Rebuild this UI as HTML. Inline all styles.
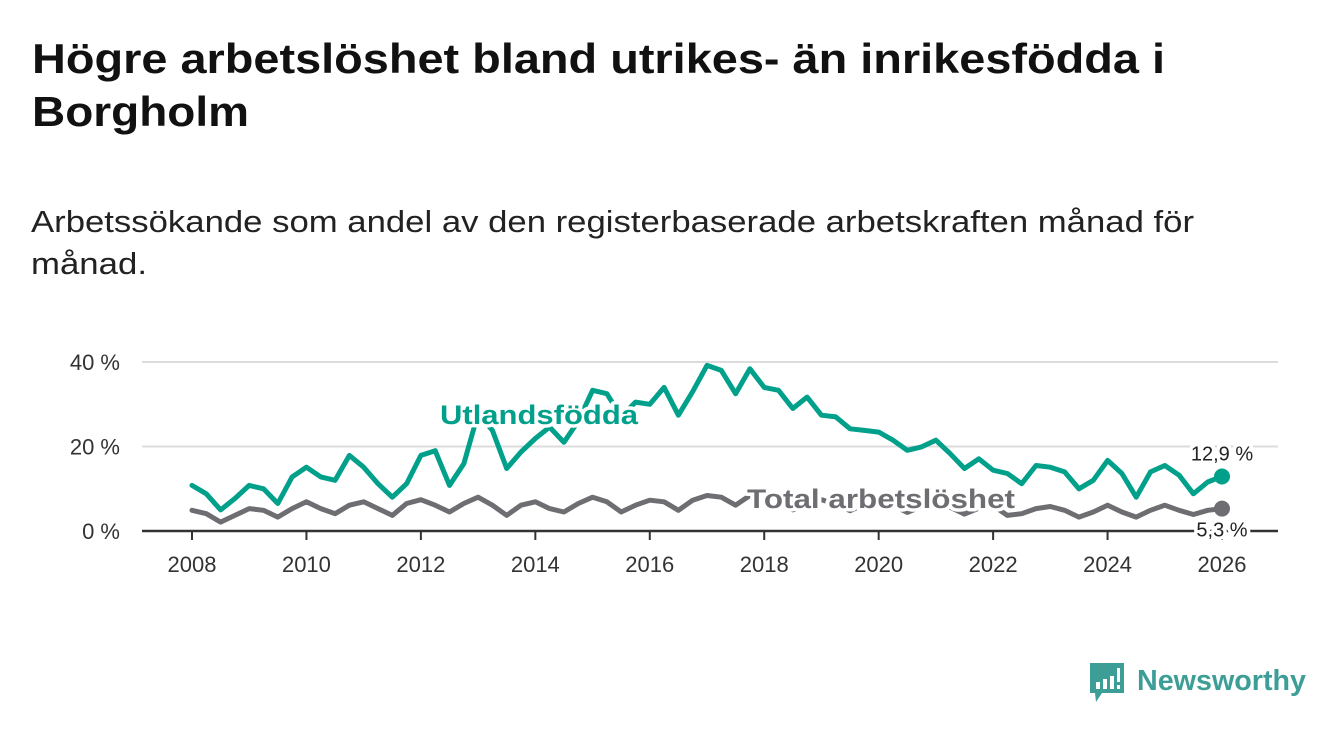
<!DOCTYPE html>
<html><head><meta charset="utf-8">
<style>
html,body{margin:0;padding:0;background:#fff;}
svg{display:block;font-family:"Liberation Sans",sans-serif;}
</style></head>
<body>
<svg id="chart" width="1340" height="734" viewBox="0 0 1340 734" xmlns="http://www.w3.org/2000/svg">
<rect width="1340" height="734" fill="#fff"/>
<text x="32" y="73" font-size="42" font-weight="bold" fill="#111" textLength="1133" lengthAdjust="spacingAndGlyphs">Högre arbetslöshet bland utrikes- än inrikesfödda i</text>
<text x="32" y="126" font-size="42" font-weight="bold" fill="#111" textLength="217" lengthAdjust="spacingAndGlyphs">Borgholm</text>
<text x="31" y="232" font-size="31" fill="#222" textLength="1163" lengthAdjust="spacingAndGlyphs">Arbetssökande som andel av den registerbaserade arbetskraften månad för</text>
<text x="31" y="274" font-size="31" fill="#222" textLength="116" lengthAdjust="spacingAndGlyphs">månad.</text>
<g id="grid"></g>
<g id="series"></g>
<g id="labels"></g>
<g>
<path d="M1090 663 h34 v30 h-22 l-6 9 l-1 -9 h-5 z" fill="#3d9e98"/>
<rect x="1096" y="682" width="4" height="7" fill="#fff"/>
<rect x="1103" y="679" width="4" height="10" fill="#fff"/>
<rect x="1110" y="676" width="4" height="13" fill="#fff"/>
<rect x="1117" y="668" width="3" height="14" fill="#fff"/>
<rect x="1117" y="685" width="3" height="4" fill="#fff"/>
<text x="1137" y="690" font-size="29" font-weight="bold" fill="#3d9e98" textLength="169" lengthAdjust="spacingAndGlyphs">Newsworthy</text>
</g>
</svg>
<script>
const years = [2008,2010,2012,2014,2016,2018,2020,2022,2024,2026];
const yTicks = [0,20,40];
const yTickLabels = ["0 %","20 %","40 %"];
const utland = [10.8,8.8,5,7.7,10.8,10,6.5,12.8,15.1,12.8,12,17.9,15.1,11.2,8,11.2,17.9,19,10.8,15.9,27.8,23.8,14.8,18.7,21.9,24.6,21,26,33.3,32.5,27,30.5,30,34,27.4,33,39.2,38,32.5,38.4,34,33.3,29,31.7,27.4,27,24.2,23.8,23.4,21.5,19.1,19.9,21.5,18.3,14.8,17.1,14.4,13.6,11.2,15.5,15.1,14,10,12,16.7,13.6,8,14,15.5,13.2,8.8,11.6,12.9];
const total = [4.9,4.1,2.1,3.7,5.3,4.9,3.3,5.3,6.9,5.3,4.1,6.1,6.9,5.3,3.7,6.5,7.4,6.1,4.5,6.5,8,6.1,3.7,6.1,6.9,5.3,4.5,6.5,8,6.9,4.5,6.1,7.3,6.9,4.9,7.3,8.4,8,6.1,8.4,7.2,6.5,5,6.6,7.4,6.4,4.8,6.3,7,6,4.4,5.8,6.6,5.6,4,5.4,6,3.7,4.1,5.3,5.8,4.9,3.3,4.5,6.1,4.5,3.3,4.9,6.1,4.9,3.9,4.9,5.3];
const startYear = 2008, step = 0.25;
const NS = "http://www.w3.org/2000/svg";
const X0=192, X1=1222, Y0=531, PX20=84.5;
const xs = t => X0 + (t-2008)*(X1-X0)/18;
const ys = v => Y0 - v*PX20/20;
function mk(tag, attrs, parent){const e=document.createElementNS(NS,tag);for(const k in attrs)e.setAttribute(k,attrs[k]);parent.appendChild(e);return e;}
const grid=document.getElementById('grid'), ser=document.getElementById('series'), lab=document.getElementById('labels');
yTicks.forEach((v,i)=>{
  if(v>0){const l=mk('line',{x1:142,x2:1278,y1:ys(v),y2:ys(v),stroke:'#dcdcdc','stroke-width':2},grid);
  
  }
  const t=mk('text',{x:120,y:ys(v)+8,'text-anchor':'end','font-size':22,fill:'#333'},grid);
  t.textContent=yTickLabels[i];
  
  
});
years.forEach(y=>{
  const l=mk('line',{x1:xs(y),x2:xs(y),y1:Y0,y2:Y0+9,stroke:'#333','stroke-width':2},grid);
  
  
  const t=mk('text',{x:xs(y),y:572,'text-anchor':'middle','font-size':22,fill:'#333'},grid);
  t.textContent=y;
  
  
});
const ax=mk('line',{x1:142,x2:1278,y1:Y0,y2:Y0,stroke:'#333','stroke-width':2.5},grid);


function drawLine(arr,color,name){
  const d=arr.map((v,i)=>(i?'L':'M')+xs(startYear+i*step).toFixed(1)+' '+ys(v).toFixed(1)).join(' ');
  const p=mk('path',{d:d,fill:'none',stroke:color,'stroke-width':5,'stroke-linejoin':'round','stroke-linecap':'round'},ser);
  
  
  const n=arr.length-1;
  const c=mk('circle',{cx:xs(startYear+n*step),cy:ys(arr[n]),r:8,fill:color},ser);
  
  
}
drawLine(total,'#6e6d72','total');
drawLine(utland,'#00a08a','utland');
function halo(txt,x,y,size,color,bold,anchor,name,len){
  const a={x:x,y:y,'font-size':size,fill:color,'text-anchor':anchor||'start',stroke:'#fff','stroke-width':7,'paint-order':'stroke','stroke-linejoin':'round'};
  if(bold)a['font-weight']='bold';
  if(len){a.textLength=len;a.lengthAdjust='spacingAndGlyphs';}
  const t=mk('text',a,lab);t.textContent=txt;
  
  
}
halo('Utlandsfödda',440,424,27,'#00a08a',true,'start','utland-label',198);
halo('Total arbetslöshet',747,508,27,'#6e6d72',true,'start','total-label',268);
const n=utland.length-1;
halo(String(utland[n]).replace('.',',')+' %',xs(startYear+n*step),ys(utland[n])-16,20,'#222',false,'middle','utland-end-value');
halo(String(total[n]).replace('.',',')+' %',xs(startYear+n*step),ys(total[n])+28,20,'#222',false,'middle','total-end-value');
</script>
</body></html>
